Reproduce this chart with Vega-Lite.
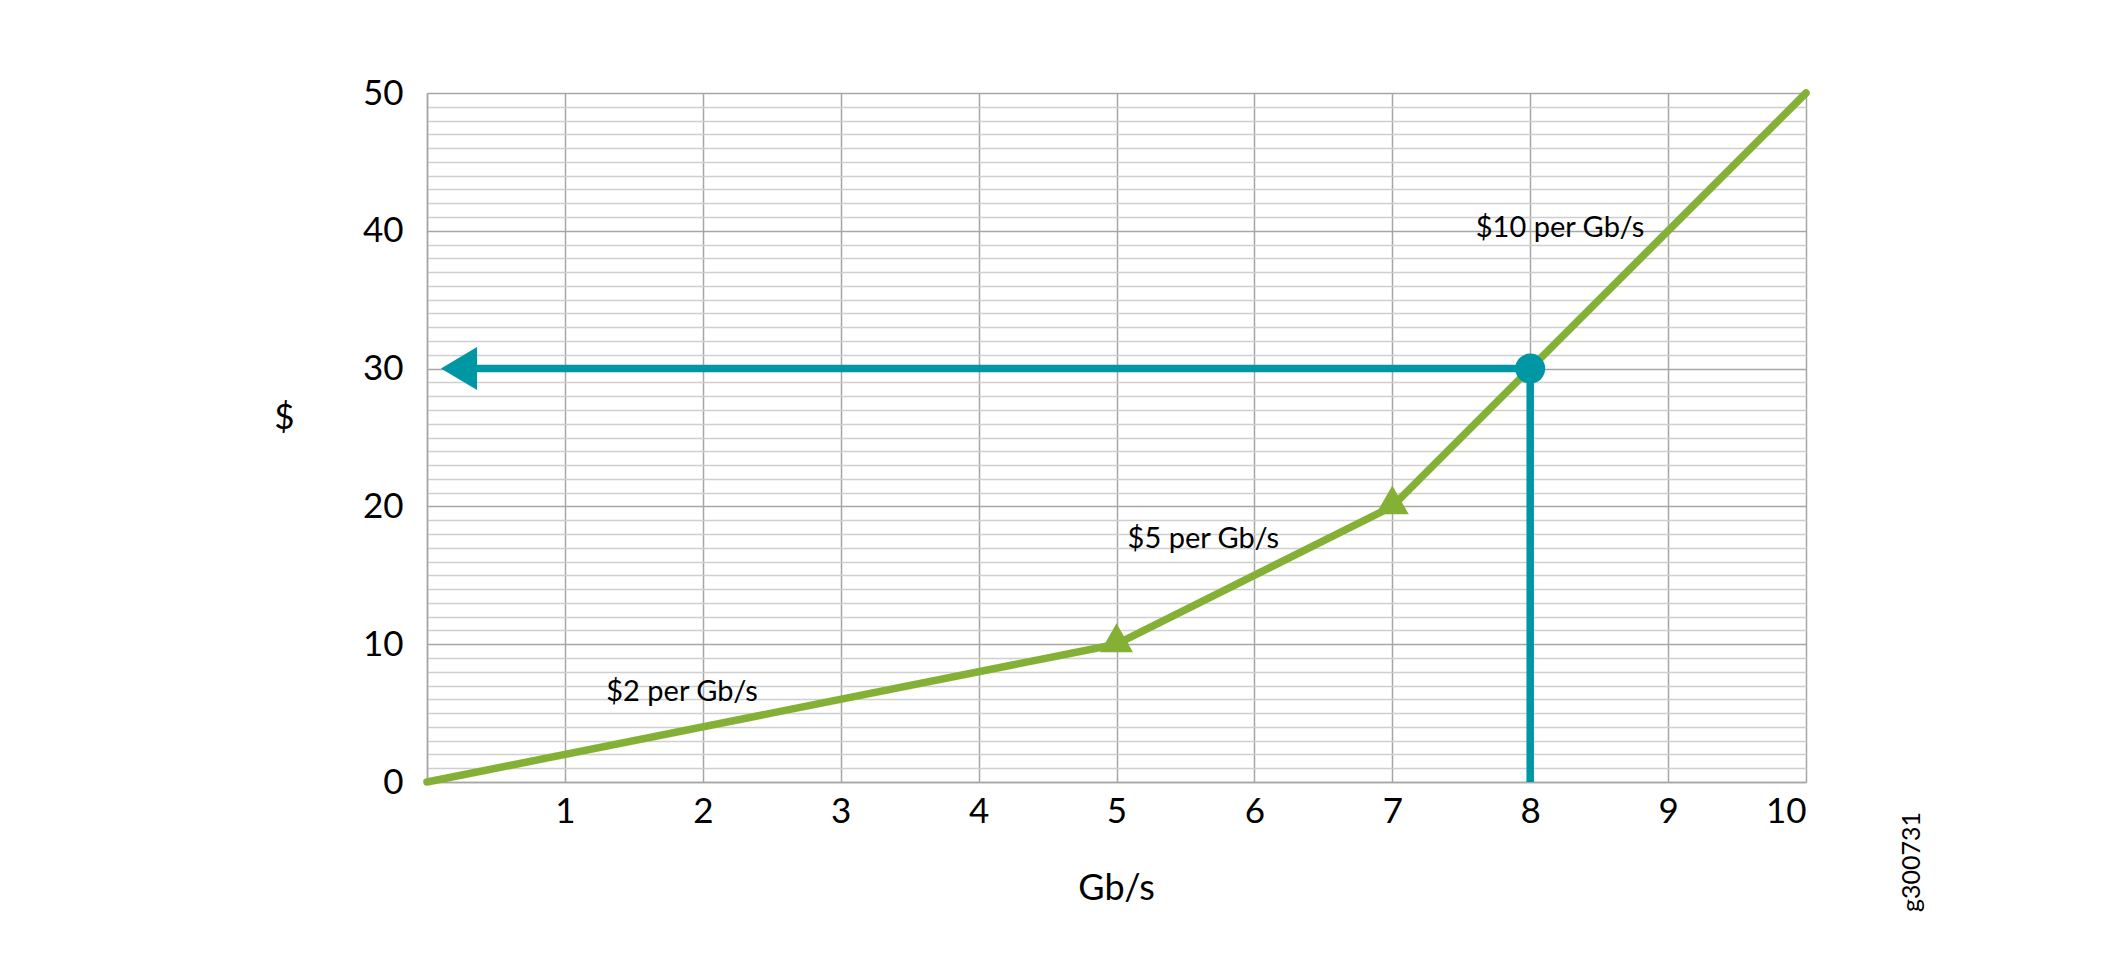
{
  "$schema": "https://vega.github.io/schema/vega-lite/v6.json",
  "width": 1379,
  "height": 689,
  "autosize": {"type": "none"},
  "padding": {"left": 427, "top": 93, "right": 295, "bottom": 175},
  "background": "white",
  "config": {
    "view": {"stroke": null},
    "font": "Lato",
    "axis": {"labelFont": "Lato", "titleFont": "Lato", "labelColor": "#000000", "titleColor": "#000000", "titleFontWeight": "normal"}
  },
  "datasets": {
    "price": [
      {"gbps": 0, "cost": 0},
      {"gbps": 5, "cost": 10},
      {"gbps": 7, "cost": 20},
      {"gbps": 10, "cost": 50}
    ],
    "breaks": [
      {"gbps": 5, "cost": 10},
      {"gbps": 7, "cost": 20}
    ],
    "lookup": [
      {"gbps": 8, "cost": 0, "o": 1},
      {"gbps": 8, "cost": 30, "o": 2},
      {"gbps": 0.3, "cost": 30, "o": 3}
    ],
    "arrow": [{"gbps": 0.232, "cost": 30}],
    "dot": [{"gbps": 8, "cost": 30}],
    "labels": [
      {"gbps": 8.216, "cost": 40.2, "label": "$10 per Gb/s"},
      {"gbps": 5.63, "cost": 17.6, "label": "$5 per Gb/s"},
      {"gbps": 1.85, "cost": 6.55, "label": "$2 per Gb/s"}
    ],
    "figid": [{"gbps": 10.77, "cost": -5.8, "label": "g300731"}]
  },
  "encoding": {
    "x": {
      "field": "gbps", "type": "quantitative",
      "scale": {"domain": [0, 10], "nice": false, "zero": true},
      "axis": {
        "values": [0, 1, 2, 3, 4, 5, 6, 7, 8, 9, 10],
        "format": "d",
        "grid": true, "gridColor": "#a6a6a6", "gridWidth": 1.5,
        "domain": true, "domainColor": "#a6a6a6", "domainWidth": 1.5,
        "ticks": false,
        "labelExpr": "datum.value == 0 ? '' : datum.label",
        "labelFontSize": 35, "labelPadding": 40, "labelBaseline": "alphabetic",
        "title": "Gb/s", "titleFontSize": 36, "titleX": 689, "titleY": 106,
        "titleBaseline": "middle", "titleAlign": "center"
      }
    },
    "y": {
      "field": "cost", "type": "quantitative",
      "scale": {"domain": [0, 50], "nice": false},
      "axis": {
        "values": [0,1,2,3,4,5,6,7,8,9,10,11,12,13,14,15,16,17,18,19,20,21,22,23,24,25,26,27,28,29,30,31,32,33,34,35,36,37,38,39,40,41,42,43,44,45,46,47,48,49,50],
        "format": "d",
        "grid": true,
        "gridColor": {"condition": {"test": "datum.value % 10 === 0", "value": "#a6a6a6"}, "value": "#cfcfcf"},
        "gridWidth": 1.5,
        "domain": true, "domainColor": "#a6a6a6", "domainWidth": 1.5,
        "ticks": false,
        "labelExpr": "datum.value % 10 === 0 ? datum.label : ''",
        "labelFontSize": 35, "labelPadding": 24, "labelOverlap": false,
        "title": "$", "titleFontSize": 35, "titleAngle": 0,
        "titleX": -143, "titleY": 324, "titleBaseline": "middle", "titleAlign": "center"
      }
    }
  },
  "layer": [
    {
      "data": {"name": "price"},
      "mark": {"type": "line", "color": "#84b135", "strokeWidth": 7.5, "strokeCap": "round", "strokeJoin": "round"}
    },
    {
      "data": {"name": "lookup"},
      "mark": {"type": "line", "color": "#0097a4", "strokeWidth": 7.5, "strokeCap": "butt"},
      "encoding": {
        "order": {"field": "o"}
      }
    },
    {
      "data": {"name": "arrow"},
      "mark": {"type": "point", "shape": "M-0.84,0 L0.84,-1 L0.84,1 Z", "filled": true, "color": "#0097a4", "opacity": 1, "size": 1849, "strokeWidth": 0}
    },
    {
      "data": {"name": "breaks"},
      "mark": {"type": "point", "shape": "M0,-1.4 L1.1,0.53 L-1.1,0.53 Z", "filled": true, "color": "#84b135", "opacity": 1, "size": 900, "strokeWidth": 0}
    },
    {
      "data": {"name": "dot"},
      "mark": {"type": "point", "shape": "circle", "filled": true, "color": "#0097a4", "opacity": 1, "size": 900, "strokeWidth": 0}
    },
    {
      "data": {"name": "labels"},
      "mark": {"type": "text", "font": "Lato", "fontSize": 29, "color": "#000000", "align": "center", "baseline": "middle"},
      "encoding": {
        "text": {"field": "label"}
      }
    },
    {
      "data": {"name": "figid"},
      "mark": {"type": "text", "font": "Lato", "fontSize": 25, "color": "#000000", "align": "center", "baseline": "middle", "angle": 270},
      "encoding": {
        "text": {"field": "label"}
      }
    }
  ]
}
